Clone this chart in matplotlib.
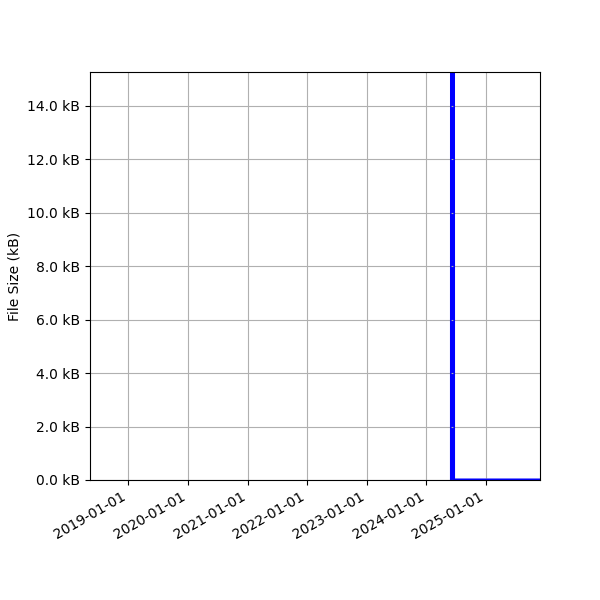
import matplotlib
matplotlib.use('Agg')
from matplotlib import pyplot as plt
import matplotlib.dates as mdates
from matplotlib.ticker import FuncFormatter
import numpy as np
from datetime import datetime

# file size history (kB) - one big spike around mid 2024, then almost nothing
dates = ['2024-05-29', '2024-05-30', '2024-06-18', '2024-06-19', '2025-03-01', '2025-11-26']
sizes_kb = [0.02, 60.0, 60.0, 0.02, 0.02, 0.02]

x_start = '2018-05-13'
x_end = '2025-11-26'
y_top = 15.27

dates = [datetime.strptime(d, '%Y-%m-%d') for d in dates]

fig, ax = plt.subplots(figsize=(6, 6), dpi=100)
ax.fill_between(dates, sizes_kb, color='blue')
ax.plot(dates, sizes_kb, color='blue', linewidth=1.2)

ax.set_xlim(datetime.strptime(x_start, '%Y-%m-%d'), datetime.strptime(x_end, '%Y-%m-%d'))
ax.set_ylim(0, y_top)

ax.xaxis.set_major_locator(mdates.YearLocator())
ax.xaxis.set_major_formatter(mdates.DateFormatter('%Y-%m-%d'))
ax.yaxis.set_major_formatter(FuncFormatter(lambda v, p: f'{v:.1f} kB'))
ax.set_ylabel('File Size (kB)')
ax.grid(True)

fig.autofmt_xdate()
fig.subplots_adjust(left=0.15)
plt.savefig('out.png', dpi=100)
